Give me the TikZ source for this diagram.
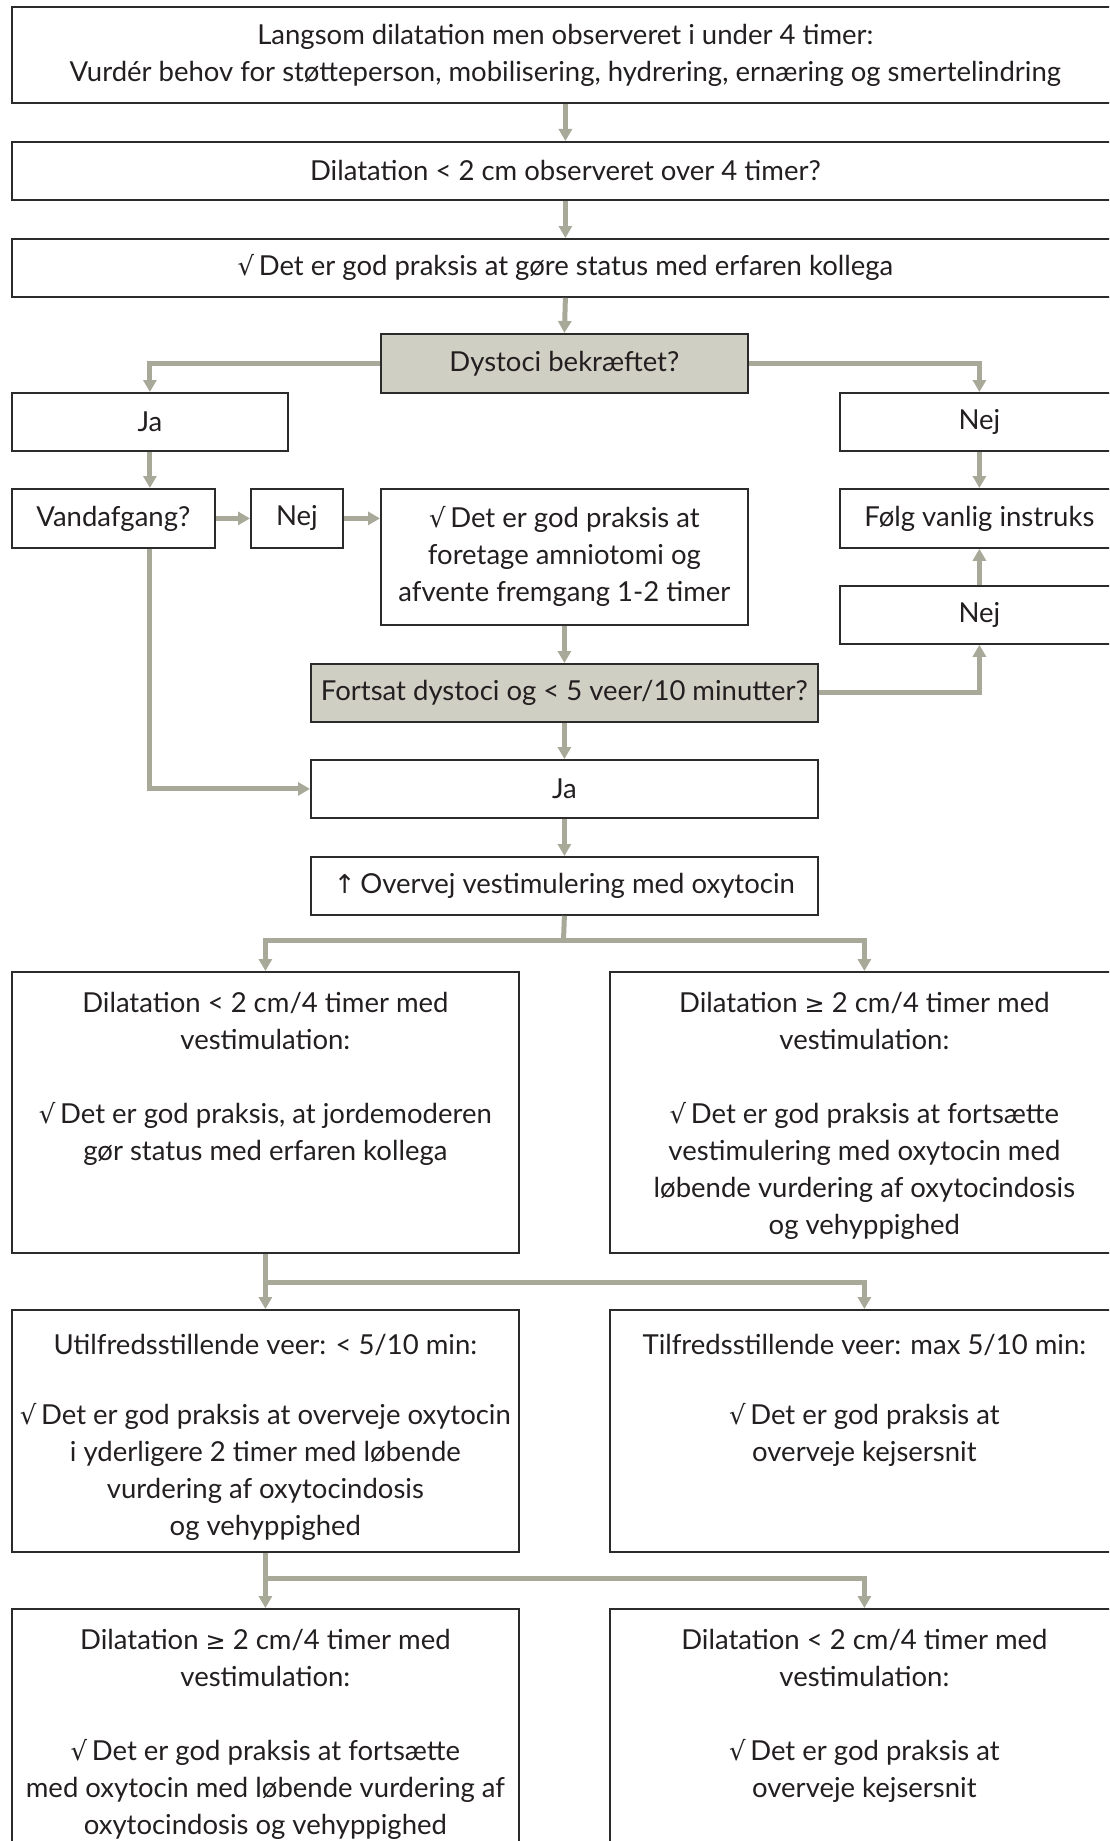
\documentclass[tikz,border=0pt]{standalone}
\usepackage{fontspec}
\setmainfont{Lato}
\newfontfamily\symf{DejaVu Sans}
\usetikzlibrary{arrows.meta}
\definecolor{arr}{HTML}{A9A999}
\definecolor{gfill}{HTML}{CFCFC4}
\definecolor{bord}{HTML}{2B2B2B}
\definecolor{txt}{HTML}{231F20}
\newcommand{\ck}{{\symf\fontsize{26}{37}\selectfont √}\,}
\newcommand{\gq}{{\symf\fontsize{24}{37}\selectfont ≥}}
\newcommand{\upar}{{\symf\fontsize{26}{37}\selectfont ↑}\,}
\tikzset{
  box/.style={draw=bord, line width=1.8pt, fill=white, inner sep=0pt, align=center,
    anchor=north west, text=txt, font=\fontsize{27.5}{37}\selectfont},
  gbox/.style={box, fill=gfill},
  txtnode/.style={inner sep=0pt, align=center, anchor=north, text=txt,
    font=\fontsize{27.5}{37}\selectfont},
  conn/.style={draw=arr, line width=5pt, line join=miter,
    -{Triangle[width=13pt,length=12pt]}},
  seg/.style={draw=arr, line width=5pt, line join=miter},
}
\begin{document}
\begin{tikzpicture}[x=1pt,y=-1pt]
\useasboundingbox (0,0) rectangle (1109,1841);
\clip (0,0) rectangle (1109,1841);
\fill[white] (0,0) rectangle (1109,1841);

\node[box, minimum width=1107pt, minimum height=96pt] (b1) at (11,6)
  {Langsom dilatation men observeret i under 4 timer:\\Vurdér behov for støtteperson, mobilisering, hydrering, ernæring og smertelindring};
\node[box, minimum width=1107pt, minimum height=58pt] (b2) at (11,141)
  {Dilatation < 2 cm observeret over 4 timer?};
\node[box, minimum width=1107pt, minimum height=58pt] (b3) at (11,238)
  {\ck Det er god praksis at gøre status med erfaren kollega};
\node[gbox, minimum width=367pt, minimum height=59pt] (dys) at (380,333)
  {Dystoci bekræftet?};
\node[box, minimum width=276pt, minimum height=58pt] (ja1) at (11,392) {Ja};
\node[box, minimum width=279pt, minimum height=58pt] (nej1) at (839,392) {Nej};
\node[box, minimum width=203pt, minimum height=59pt] (vand) at (11,488) {Vandafgang?};
\node[box, minimum width=92pt, minimum height=59pt] (nej2) at (250,488) {Nej};
\node[box, minimum width=367pt, minimum height=136pt] (amn) at (380,488)
  {\ck Det er god praksis at\\foretage amniotomi og\\afvente fremgang 1-2 timer};
\node[box, minimum width=279pt, minimum height=59pt] (folg) at (839,488) {Følg vanlig instruks};
\node[box, minimum width=279pt, minimum height=58pt] (nej3) at (839,585) {Nej};
\node[gbox, minimum width=507pt, minimum height=58pt] (fort) at (310,663)
  {Fortsat dystoci og < 5 veer/10 minutter?};
\node[box, minimum width=507pt, minimum height=58pt] (ja2) at (310,759) {Ja};
\node[box, minimum width=507pt, minimum height=58pt] (overv) at (310,856)
  {\upar Overvej vestimulering med oxytocin};

\node[box, minimum width=507pt, minimum height=281pt] (L1) at (11,971) {};
\node[box, minimum width=509pt, minimum height=281pt] (R1) at (609,971) {};
\node[box, minimum width=507pt, minimum height=242pt] (L2) at (11,1309) {};
\node[box, minimum width=509pt, minimum height=242pt] (R2) at (609,1309) {};
\node[box, minimum width=507pt, minimum height=250pt] (L3) at (11,1608) {};
\node[box, minimum width=509pt, minimum height=250pt] (R3) at (609,1608) {};

\node[txtnode] (L1t) at (L1.north)
  {\rule{0pt}{41pt}Dilatation < 2 cm/4 timer med\\vestimulation:\\[37pt]\ck Det er god praksis, at jordemoderen\\gør status med erfaren kollega};
\node[txtnode] (R1t) at (R1.north)
  {\rule{0pt}{41pt}Dilatation \gq{} 2 cm/4 timer med\\vestimulation:\\[37pt]\ck Det er god praksis at fortsætte\\vestimulering med oxytocin med\\løbende vurdering af oxytocindosis\\og vehyppighed};
\node[txtnode] (L2t) at (L2.north)
  {\rule{0pt}{45pt}Utilfredsstillende veer: < 5/10 min:\\[33pt]\ck Det er god praksis at overveje oxytocin\\i yderligere 2 timer med løbende\\vurdering af oxytocindosis\\og vehyppighed};
\node[txtnode] (R2t) at (R2.north)
  {\rule{0pt}{45pt}Tilfredsstillende veer: max 5/10 min:\\[33pt]\ck Det er god praksis at\\overveje kejsersnit};
\node[txtnode] (L3t) at (L3.north)
  {\rule{0pt}{41pt}Dilatation \gq{} 2 cm/4 timer med\\vestimulation:\\[37pt]\ck Det er god praksis at fortsætte\\med oxytocin med løbende vurdering af\\oxytocindosis og vehyppighed};
\node[txtnode] (R3t) at (R3.north)
  {\rule{0pt}{41pt}Dilatation < 2 cm/4 timer med\\vestimulation:\\[37pt]\ck Det er god praksis at\\overveje kejsersnit};

% connectors
\draw[conn] (b1.south) -- (b2.north);
\draw[conn] (b2.south) -- (b3.north);
\draw[conn] (b3.south) -- (dys.north);
\draw[conn] (dys.west) -| (ja1.north);
\draw[conn] (dys.east) -| (nej1.north);
\draw[conn] (ja1.south) -- (ja1.south |- vand.north);
\draw[conn] (vand.east) -- (nej2.west);
\draw[conn] (nej2.east) -- (nej2.east -| amn.west);
\draw[conn] (nej1.south) -- (folg.north);
\draw[conn] (amn.south) -- (fort.north);
\draw[conn] (fort.east) -| (nej3.south);
\draw[conn] (nej3.north) -- (folg.south);
\draw[conn] (vand.south -| ja1.south) |- (ja2.west);
\draw[conn] (fort.south) -- (ja2.north);
\draw[conn] (ja2.south) -- (overv.north);

\coordinate (s1) at (563.5,940);
\coordinate (s2) at (264.5,1282);
\coordinate (s3) at (264.5,1578);
\draw[seg] (overv.south) -- (s1);
\draw[conn] (s1) -| (L1.north);
\draw[conn] (s1) -| (R1.north);
\draw[conn] (L1.south) -- (L2.north);
\draw[conn] (s2) -| (R2.north);
\draw[conn] (L2.south) -- (L3.north);
\draw[conn] (s3) -| (R3.north);
\end{tikzpicture}
\end{document}
